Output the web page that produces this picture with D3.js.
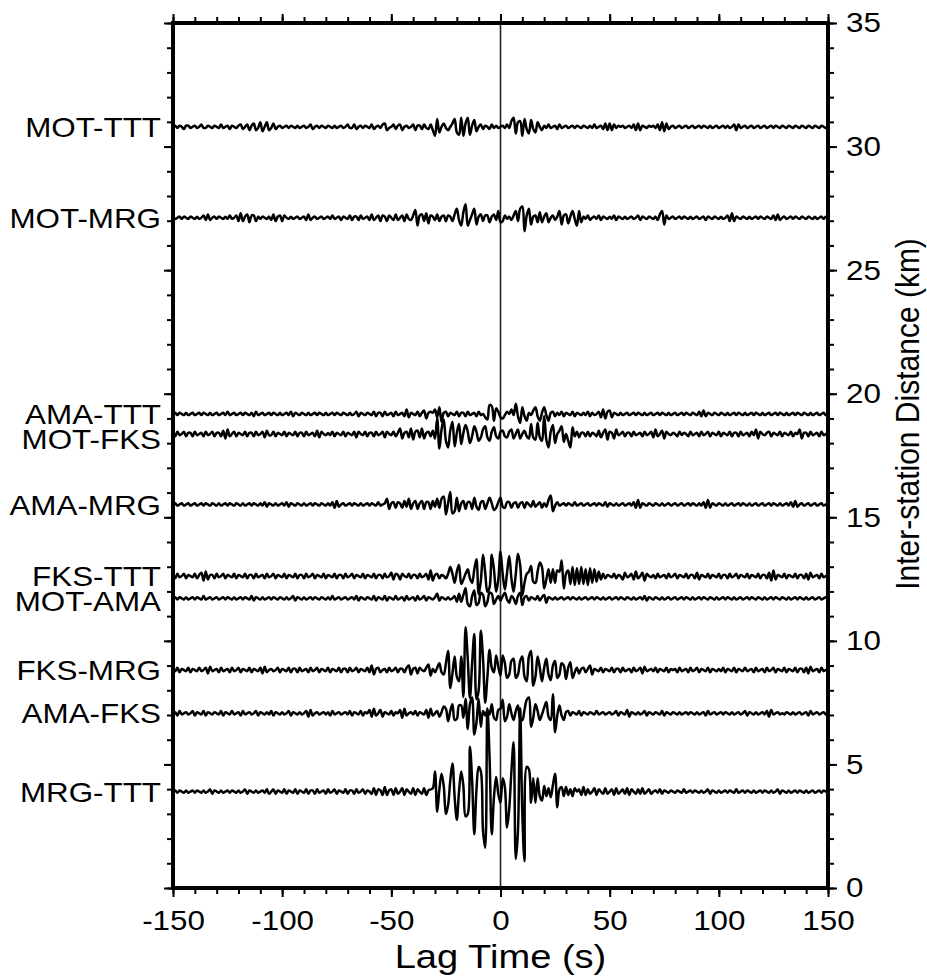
<!DOCTYPE html>
<html>
<head>
<meta charset="utf-8">
<script src="https://cdn.jsdelivr.net/npm/d3@7"></script>
<style>
  body { margin: 0; background: #fff; }
  svg text { font-family: "Liberation Sans", Arial, Helvetica, sans-serif; fill: #000; }
</style>
</head>
<body>
<div id="grafico"></div>
<script>
// station pairs, top to bottom, and their inter-station distance (km)
const pares = ["MOT-TTT", "MOT-MRG", "AMA-TTT", "MOT-FKS", "AMA-MRG", "FKS-TTT", "MOT-AMA", "FKS-MRG", "AMA-FKS", "MRG-TTT"];
const distancias = [30.80, 27.12, 19.18, 18.37, 15.52, 12.62, 11.72, 8.82, 7.07, 3.90];

// lag axis, one sample per second from -150 s to 150 s
const lagTimes = d3.range(-150, 151, 1);
const lagTicks = [-150, -100, -50, 0, 50, 100, 150];
const distTicks = [0, 5, 10, 15, 20, 25, 30, 35];

// cross-correlation amplitudes (arbitrary units, 22 units = 1 km on the plot)
const motTtt = [0,1,-1,1,0,-2,1,1,-1,0, 1,-1,0,2,-1,-1,1,0,-1,1, 0,-1,2,-1,0,1,-2,1,0,-1, 1,2,-2,0,2,-3,1,3,-3,-1, 4,-4,0,4,-3,-1,3,-2,0,1,
  -1,0,1,-1,1,0,-1,1,-1,0, 1,-1,0,2,-2,0,1,-1,1,0, -1,1,0,-1,1,-1,0,1,-1,0, 2,-1,-1,2,-2,0,1,-1,1,0, -1,2,-2,0,1,-1,2,3,-3,-1,
  0,2,-2,1,2,-3,0,1,-1,0, 2,-3,1,1,-2,2,-1,-2,2,-3, -8,7,-5,0,3,-1,-3,0,3,7, -5,-7,8,-8,3,8,-7,1,6,-4, 0,2,-2,1,0,-2,2,-1,1,-1,
  0,1,-1,2,-1,5,8,-6,4,5, -8,7,-2,-6,6,-2,-5,4,0,-3, 1,-1,2,-1,0,1,-2,2,-1,0, 1,-1,0,1,-1,1,0,-1,1,0, -1,1,-1,2,-1,0,1,-2,3,-3,
  3,-3,2,-1,1,0,1,-1,0,1, -1,2,-3,3,-3,1,0,-1,1,0, 1,-1,2,-3,4,-4,3,-2,0,1, -1,0,1,-1,0,1,-1,0,1,-1, 0,1,-1,1,0,-1,1,-1,0,1,
  -1,0,1,-1,1,-1,0,2,-3,2, -1,0,1,-1,0,1,-1,0,1,-1, 0,1,-1,0,1,-1,1,0,-1,1, 0,-1,1,0,-1,1,0,-1,1,0, -1,1,0,-1,1,0,-1,1,0,-1,0];

const motMrg = [1,-1,0,1,-1,1,0,-1,1,0, -1,1,-1,0,2,-2,3,-2,0,1, -1,1,0,-1,1,-1,2,-1,0,2, -3,4,-3,1,3,-4,2,2,-3,1, -1,1,0,-1,1,-2,3,-3,1,2,
  -3,2,0,-1,1,-1,0,1,-1,0, 1,-2,3,-2,0,1,-1,0,1,-1, 0,1,-1,2,-1,0,1,-2,1,0, -1,2,-2,1,1,-2,2,-1,0,1, -2,3,-2,0,2,-3,2,1,-3,2,
  0,-2,3,-2,0,2,-3,3,-1,-2, 2,7,-7,2,3,-3,4,-5,2,1, -2,3,-3,1,2,-3,2,1,-3,3, 8,-2,-7,5,12,-7,-2,3,8,-6, 1,3,-3,2,2,-4,1,3,-2,6,
  -4,-3,2,-1,1,-2,2,6,-3,8, 10,-12,2,8,-6,1,2,-4,5,-4, 1,4,-4,0,2,-2,1,6,-6,2, 3,-5,1,6,-1,-7,6,-4,1,-1, 2,-2,0,1,-1,2,-2,1,0,-1,
  1,-1,2,-2,1,0,-1,1,-1,0, 1,-1,0,2,-2,1,0,-1,1,0, -1,1,-2,3,6,-6,2,-1,0,1, -1,0,1,-1,1,0,-1,1,-1,0, 1,-1,0,1,-2,1,0,-1,1,0,
  -1,1,-1,0,2,-3,4,-3,1,0, -1,1,0,-1,1,-1,0,1,-1,1, 0,-1,1,0,-1,2,-2,3,-2,0, 1,-1,0,1,-1,1,0,-1,1,0, -1,1,0,-1,1,-1,0,1,-1,1,0];

const amaTtt = [0,1,-1,1,0,-1,1,-1,0,1, -1,0,1,-1,1,0,-1,1,-1,0, 1,-1,0,1,-1,2,-1,0,1,-1, 0,1,-1,1,0,-1,1,-2,2,-1, 0,1,-1,0,1,-1,1,0,-1,1,
  -1,0,1,-1,2,-2,1,0,-1,1, 0,-1,1,-1,0,1,-1,1,0,-1, 1,-1,0,1,-1,1,0,-1,1,0, -1,1,-1,0,2,-2,1,0,-1,1, 0,-1,2,-2,1,1,-2,2,-1,0,
  1,-2,2,-1,0,1,-2,4,-3,1, 0,-1,2,-2,1,3,-4,1,2,1, 4,-3,6,-7,1,2,-2,1,0,-1, 2,-2,1,1,-2,2,-1,0,1,-2, 2,-1,0,-3,-5,8,7,-6,5,2,
  -3,-4,-1,2,0,4,-1,9,-2,-8, 6,-2,-6,1,-1,3,6,-2,-6,1, 6,-1,-6,1,2,-2,1,-1,2,-2, 1,0,-1,2,-2,1,0,-1,1,-1, 2,-2,1,-1,0,2,-3,4,-4,2,
  3,-3,1,0,-1,1,-1,0,1,-1, 0,1,-1,1,0,-1,1,-1,0,1, -1,0,1,-1,1,0,-1,1,-1,0, 1,-1,0,1,-1,1,0,-1,1,0, -1,2,-2,3,-2,1,0,-1,1,0,
  -1,1,0,-1,1,-1,0,1,-1,1, 0,-1,1,-1,0,1,-1,1,0,-1, 1,-1,0,1,-1,0,1,-1,1,0, -1,1,-1,0,1,-1,1,0,-1,1, 0,-1,1,-1,0,1,-1,0,1,-1,0];

const motFks = [1,-2,2,-1,0,2,-2,1,1,-2, 2,-1,0,1,-2,2,-1,0,2,-2, 1,1,-2,3,-4,4,-2,0,2,-2, 1,0,-1,2,-2,1,1,-2,2,-1, 0,2,-3,3,-1,-1,2,-2,1,0,
  -1,2,-2,1,0,-1,2,-2,1,1, -2,2,-1,0,1,-2,3,-3,2,0, -1,1,-1,2,-2,1,0,-1,2,-2, 1,0,-1,2,-3,2,0,-1,2,-2, 1,1,-2,2,-1,0,2,-3,2,0,
  -1,2,-2,1,5,-4,1,2,-3,5, -5,2,3,-3,5,-4,1,2,-2,3, -4,14,-13,4,13,-6,-12,3,11,-11, 1,9,-9,1,8,2,-8,-2,7,2, -6,-3,4,7,-3,-6,2,6,-2,-4,
  2,3,-2,-3,2,4,-4,0,4,-4, 0,3,-2,-4,9,-3,-5,10,-3,-6, 16,-5,-12,2,8,-8,0,3,7,-7, 0,-6,-12,6,-2,2,-3,1,1,-2, 2,-2,1,0,-2,3,-3,1,4,-5,
  2,1,-4,4,-1,0,2,-2,1,1, -2,2,-1,0,1,-2,2,-1,0,2, -3,4,-2,0,3,-4,2,0,-1,1, 0,-2,2,-1,1,0,-2,2,-1,0, 1,-2,2,-1,0,2,-2,1,0,-1,
  2,-2,1,0,-1,2,-2,1,1,-2, 2,-1,0,1,-2,2,-1,4,-4,2, 0,-1,1,2,-2,1,0,-1,2,-2, 1,0,-1,2,-2,1,0,4,-4,1, 1,-2,2,-1,0,1,-2,2,-1,0,1];

const amaMrg = [0,1,-1,0,1,-1,0,1,-1,0, 1,-1,0,1,-1,1,0,-1,1,0, -1,1,-1,0,1,-1,1,0,-1,1, 0,-1,1,-1,0,1,-1,1,0,-1, 1,-1,2,-2,1,0,-1,1,-1,0,
  1,-1,2,-2,1,0,-1,1,0,-1, 1,-1,0,1,-1,1,0,-1,1,0, -1,1,-1,2,-3,3,-2,0,1,-1, 0,1,-1,1,0,-1,1,-1,0,1, -1,1,0,-1,2,-1,0,1,5,-4,
  1,2,-3,2,1,-3,3,-2,5,-4, 1,3,-4,1,3,-4,2,2,-4,3, -2,5,-3,5,7,-9,1,11,-8,-6, 6,-6,1,3,-4,2,2,-4,6,-2, -5,2,3,-4,1,6,1,-5,-3,2,
  6,-2,-3,2,2,-3,1,2,-3,1, 2,-3,2,0,-2,3,-2,0,2,-3, 1,-2,4,8,-6,-1,2,-1,0,1, -1,1,0,-1,2,-1,0,1,-1,0, 1,-1,0,1,-1,1,0,-1,2,-2,
  1,0,-1,1,-1,0,1,-1,0,1, -1,2,-3,4,-3,1,0,-1,1,0, -1,1,0,-1,1,-1,0,1,-1,0, 1,-1,0,1,-1,0,1,-1,1,0, -1,1,-1,2,-3,4,-3,1,0,-1,
  1,0,-1,1,-1,0,1,-1,0,1, -1,1,0,-1,1,-1,0,1,-1,0, 1,-1,0,1,-1,1,0,-1,1,-1, 0,1,-1,2,-2,3,-2,0,1,-1, 0,1,-1,0,1,-1,0,1,-1,0,0];

const fksTtt = [1,-2,2,-1,0,2,-2,1,0,-1, 2,-2,1,3,-4,4,-3,1,1,-2, 2,-1,0,2,-2,1,0,-1,2,-2, 1,0,-1,2,-2,1,1,-2,2,-1, 0,1,-2,2,-1,0,2,-2,1,0,
  -1,2,-2,1,0,-1,2,-2,1,1, -2,2,-1,0,2,-2,1,0,-1,2, -2,1,0,-1,2,-2,1,1,-2,2, -1,0,2,-2,1,0,-1,2,-2,1, 0,-1,2,-2,1,1,-2,2,-1,0,
  3,-3,2,1,-3,2,0,-1,2,-2, 1,1,-2,2,-1,0,2,-3,5,-4, 1,2,-2,1,0,-2,2,8,2,-6, 4,10,-7,-3,2,6,-2,-6,6,15, -16,-4,19,3,-14,-10,19,6,-14,-3,
  22,2,-12,3,18,-2,-14,2,20,10, -17,-6,2,4,9,-5,-6,4,12,8, -11,-3,6,-6,6,-6,5,4,14,-11, 2,5,-7,8,-8,7,-7,8,-7,6, -8,7,-6,6,-5,4,-3,2,-2,1,
  0,-1,2,-2,1,0,-3,3,-1,0, 2,-3,4,-2,0,3,-4,2,0,-1, 1,-2,2,-1,0,1,-2,2,-1,0, 2,-2,1,0,-1,2,-2,1,1,-2, 3,-3,1,0,-1,2,-2,1,0,-1,
  2,-2,1,1,-2,2,-1,0,2,-2, 1,0,-1,2,-2,1,0,-1,2,-2, 1,1,-2,3,-4,5,-3,1,0,-1, 2,-2,1,0,-1,2,-2,1,1,-2, 2,-3,3,-1,0,1,-2,2,-1,0,1];

const motAma = [0,1,-1,1,0,-1,1,-1,0,1, -1,1,0,-1,2,-1,0,1,-1,0, 1,-1,0,1,-1,1,0,-1,1,-1, 0,1,-1,1,0,-1,2,-2,1,0, -1,1,-1,0,1,-1,1,0,-1,1,
  0,-1,1,-1,0,2,-2,1,0,-1, 1,-1,0,1,-1,1,0,-1,1,0, -1,1,-1,2,-1,0,1,-1,0,1, -1,0,1,-1,2,-2,1,0,-1,1, 0,-1,2,-2,1,0,-1,2,-2,1,
  0,-1,2,-1,0,1,-2,2,-1,0, 1,-2,2,-1,0,2,-2,1,0,-1, 1,4,-2,1,0,-1,1,-1,0,2, -3,4,-3,3,9,-5,-7,2,7,-6, -4,5,3,-7,-3,5,4,-5,-1,2,
  -2,2,5,-1,-4,2,0,-5,2,5, -6,1,2,-2,1,0,-1,2,-2,1, 3,-4,1,0,-1,1,-1,0,1,-1, 0,1,-1,1,0,-1,1,-1,0,1, -1,0,1,-1,1,0,-1,1,-1,0,
  1,-1,0,1,-1,1,0,-1,1,0, -1,1,-1,0,1,-1,2,-2,1,0, -1,1,0,-1,1,-1,0,1,-1,0, 1,-1,0,1,-1,1,0,-1,1,-1, 0,1,-1,1,0,-1,1,0,-1,1,
  -1,0,1,-1,1,0,-1,1,-1,0, 1,-1,0,1,-1,1,0,-1,1,0, -1,1,-1,0,1,-1,1,0,-1,1, 0,-1,1,-1,0,1,-1,1,0,-1, 1,-1,0,1,-1,0,1,-1,0,1,0];

const fksMrg = [1,-1,2,-2,1,0,-1,2,-2,1, 0,-1,2,-1,0,2,-3,3,-1,0, 1,-2,2,-1,0,1,-2,2,-1,0, 2,-2,1,0,-1,2,-2,1,0,-1, 2,-3,3,-2,0,1,-1,0,2,-2,
  1,0,-1,2,-2,1,1,-2,2,-1, 0,1,-2,2,-1,0,2,-2,1,0, -1,2,-2,1,0,-1,2,-2,1,1, -2,2,-1,0,2,-2,1,0,-1,2, -2,4,-4,1,2,-2,0,1,-2,2,
  -1,0,2,-2,1,1,-2,2,4,-4, 1,2,-3,2,0,-1,2,5,-5,1, -2,2,6,-2,-4,6,17,-16,-3,12, -6,-10,12,-24,38,10,-25,6,32,-26, -18,35,10,-29,-6,18,2,-2,13,3,
  -5,13,6,-7,-4,8,10,-7,-4,8, 12,-6,-10,12,17,-14,-6,12,2,-10, 2,10,-4,-9,4,8,-7,-4,6,4, -8,2,7,-7,-2,2,-3,1,2,-2, 1,4,-4,1,0,-1,2,-2,1,0,
  -1,2,-2,1,1,-2,2,-1,0,1, -2,2,-1,0,2,-3,3,-1,0,1, -1,2,-2,1,0,-1,2,-2,1,0, 1,-2,2,-1,0,1,-2,2,-1,0, 2,-2,1,0,-1,2,-2,1,0,-1,
  1,-1,2,-2,1,0,-1,2,-2,1, 0,-1,2,-1,0,1,-2,2,-1,0, 1,-2,2,-1,0,2,-2,1,0,-1, 2,-2,1,0,-1,2,-2,1,1,-2, 2,-3,3,-1,0,1,-2,2,-1,0,0];

const amaFks = [0,1,-2,2,-1,0,1,-1,0,2, -2,1,0,-1,2,-2,1,0,-1,1, 0,-1,2,-2,1,0,-1,2,-1,0, 1,-2,2,-1,0,1,-1,0,2,-2, 1,0,-1,1,-1,2,-2,1,0,-1,
  1,-1,0,2,-2,1,0,-1,1,-1, 0,2,-3,3,-2,0,1,-1,0,1, -1,1,-2,2,-1,0,1,-1,0,1, -1,2,-2,1,0,-1,2,-2,1,0, 3,-3,4,-2,0,3,-3,1,0,-1,
  2,-2,1,0,3,-4,4,-2,0,1, -1,2,-2,1,0,-1,3,-4,4,-2, 0,2,-3,1,6,4,-7,2,8,-6, -5,7,7,-4,13,-14,8,14,-19,-8, 13,-12,2,-2,3,-1,8,-4,-6,3,
  4,12,-7,-3,8,0,-6,2,7,-5, -6,3,12,14,-12,-4,8,2,-6,-1, 5,10,-3,-6,17,-17,-2,7,-2,-6, 1,2,-2,1,0,-1,2,-2,1,0, -1,1,0,-1,2,-1,0,1,-1,0,
  1,-1,0,2,-2,1,0,-1,3,-3, 1,0,-1,1,-1,0,2,-2,1,0, -1,1,0,-1,2,-2,1,0,-1,1, 0,-1,1,-1,0,1,-1,1,0,-1, 1,-1,0,1,-2,2,-1,0,1,-1,
  0,1,-1,1,0,-1,1,-1,0,1, -1,0,2,-2,1,0,-1,1,-1,0, 1,-1,2,-3,3,-1,0,1,-1,0, -1,1,0,-1,1,-1,0,1,-1,0, 1,-2,2,-1,0,1,-1,0,1,-1,0];

const mrgTtt = [0,1,-1,1,0,-1,1,-1,0,1, -1,1,0,-1,1,-1,0,2,-2,1, 0,-1,1,-1,0,1,-1,1,0,-1, 1,-1,0,2,-2,1,0,-1,1,-1, 0,1,-1,2,-2,0,2,-2,1,0,
  -1,2,-2,1,0,-1,2,-2,1,0, -1,2,-2,1,1,-2,2,-1,0,1, -2,2,-1,0,2,-2,1,0,-1,2, -2,1,1,-2,2,-1,0,2,-2,1, 0,-2,3,-3,2,1,-3,4,-3,1,
  2,-3,3,-2,0,3,-3,2,0,-2, 3,-3,2,0,-2,3,-3,1,2,3, 18,-18,2,16,5,-20,-12,10,25,-5, -25,0,18,5,-22,-20,40,10,-38,2, 22,18,-35,-50,74,30,-38,-5,13,-2,
  -10,12,4,-32,-15,18,44,-60,-35,74, -20,-62,22,20,-10,12,-10,12,-4,-8, 5,-4,3,-5,6,16,-14,2,4,-4, 4,-3,2,-4,3,0,2,-3,4,-3, 2,-2,0,3,-3,2,0,-2,3,-2,
  0,2,-3,3,-2,0,2,-2,3,-3, 2,0,-2,2,-2,3,-2,0,2,-2, 0,1,-1,2,-2,1,0,-1,1,0, -1,1,0,-1,2,-1,0,1,-1,1, 0,-1,1,-1,0,2,-2,1,0,-1,
  1,-1,0,1,-1,1,0,-1,2,-1, 0,1,-1,1,0,-1,1,-1,0,1, -1,1,0,-1,1,-1,0,2,-2,1, 0,-1,1,-1,0,1,-1,1,0,-1, 1,-1,0,1,-1,0,1,-1,1,0,0];

const amplitudes = [motTtt, motMrg, amaTtt, motFks, amaMrg, fksTtt, motAma, fksMrg, amaFks, mrgTtt];

const trazas = pares.map((p, i) => ({ par: p, dist: distancias[i], amp: amplitudes[i] }));

const width = 927, height = 980;
const marco = { left: 173, right: 828, top: 23, bottom: 888 };
const ancho = 1.12; // the original lettering is a little wider than Liberation Sans

const svg = d3.select("#grafico")
    .append("svg")
    .attr("width", width)
    .attr("height", height);

const x = d3.scaleLinear().domain([-150, 150]).range([marco.left, marco.right]);
const y = d3.scaleLinear().domain([0, 35]).range([marco.bottom, marco.top]);
const ampKm = d3.scaleLinear().domain([0, 22]).range([0, 1]);

const fmt = d => String(d);
const sinDominio = g => g.select(".domain").remove();

function eje(axis, tx, ty) {
    const g = svg.append("g")
        .attr("transform", `translate(${tx},${ty})`)
        .call(axis)
        .call(sinDominio);
    g.selectAll(".tick line").attr("stroke", "#000").attr("stroke-width", 2);
    g.selectAll("text").attr("class", "ancho").attr("font-size", 28).attr("fill", "#000");
    return g;
}

// minor ticks
const menX = d3.range(-150, 151, 10);
const menY = d3.range(0, 36, 1);
eje(d3.axisBottom(x).tickValues(menX).tickSize(6).tickFormat(""), 0, marco.bottom);
eje(d3.axisTop(x).tickValues(menX).tickSize(6).tickFormat(""), 0, marco.top);
eje(d3.axisLeft(y).tickValues(menY).tickSize(6).tickFormat(""), marco.left, 0);
eje(d3.axisRight(y).tickValues(menY).tickSize(6).tickFormat(""), marco.right, 0);

// major ticks
eje(d3.axisBottom(x).tickValues(lagTicks).tickSize(9).tickPadding(13).tickFormat(fmt), 0, marco.bottom);
eje(d3.axisTop(x).tickValues(lagTicks).tickSize(9).tickFormat(""), 0, marco.top);
eje(d3.axisLeft(y).tickValues(distTicks).tickSize(9).tickFormat(""), marco.left, 0);
eje(d3.axisRight(y).tickValues(distTicks).tickSize(9).tickPadding(9).tickFormat(fmt), marco.right, 0);

// zero-lag line
svg.append("line")
    .attr("x1", x(0)).attr("x2", x(0))
    .attr("y1", marco.top).attr("y2", marco.bottom)
    .attr("stroke", "#222")
    .attr("stroke-width", 1.6);

const linea = d3.line()
    .curve(d3.curveCatmullRom.alpha(0.5));

const g = svg.append("g");

g.selectAll("path.traza")
    .data(trazas)
    .enter().append("path")
    .attr("class", "traza")
    .attr("fill", "none")
    .attr("stroke", "#000")
    .attr("stroke-width", 2.5)
    .attr("stroke-linejoin", "round")
    .attr("d", d => linea(d.amp.map((a, i) => [x(lagTimes[i]), y(d.dist + ampKm(a))])));

// labels: keep close pairs apart, the lower one moves down
let previo = -Infinity;
trazas.forEach(t => {
    t.yLabel = Math.max(y(t.dist), previo + 25);
    previo = t.yLabel;
});

g.selectAll("text.par")
    .data(trazas)
    .enter().append("text")
    .attr("class", "par ancho")
    .attr("x", 161)
    .attr("y", d => d.yLabel)
    .attr("dy", "0.36em")
    .attr("text-anchor", "end")
    .attr("font-size", 28)
    .text(d => d.par);

// frame
svg.append("rect")
    .attr("x", marco.left).attr("y", marco.top)
    .attr("width", marco.right - marco.left)
    .attr("height", marco.bottom - marco.top)
    .attr("fill", "none")
    .attr("stroke", "#000")
    .attr("stroke-width", 4);

svg.append("text")
    .attr("class", "ancho")
    .attr("x", x(0))
    .attr("y", 968)
    .attr("text-anchor", "middle")
    .attr("font-size", 34)
    .text("Lag Time (s)");

svg.append("text")
    .attr("transform", `translate(919,414) rotate(-90) scale(1,${ancho})`)
    .attr("text-anchor", "middle")
    .attr("font-size", 30)
    .text("Inter-station Distance (km)");

// widen the horizontal lettering
svg.selectAll("text.ancho").each(function() {
    const largo = this.getComputedTextLength();
    if (largo > 0) {
        d3.select(this)
            .attr("textLength", largo * ancho)
            .attr("lengthAdjust", "spacingAndGlyphs");
    }
});
</script>
</body>
</html>
